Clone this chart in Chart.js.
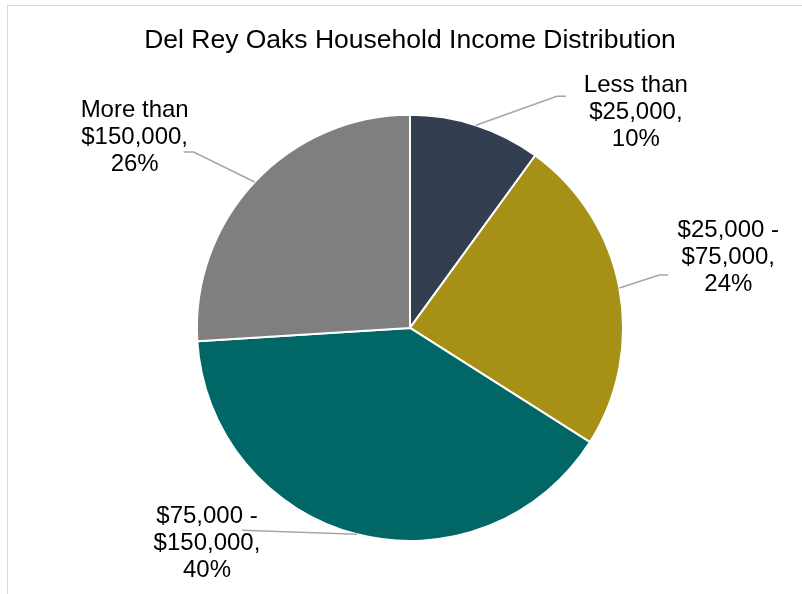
<!DOCTYPE html>
<html>
<head>
<meta charset="utf-8">
<script src="https://cdn.jsdelivr.net/npm/chart.js@4.4.0/dist/chart.umd.min.js"></script>
<style>
  html, body { margin: 0; padding: 0; background: #fff; }
  #frame { position: absolute; left: 7px; top: 5px; width: 900px; height: 700px; border: 1px solid #d9d9d9; }
  #wrap { position: absolute; left: 0; top: 0; width: 802px; height: 594px; }
</style>
</head>
<body>
<div id="frame"></div>
<div id="wrap"><canvas id="chart" width="802" height="594"></canvas></div>
<script>
const categories = ['Less than $25,000', '$25,000 - $75,000', '$75,000 - $150,000', 'More than $150,000'];
const shares = [10, 24, 40, 26];
const labelLines = [
  ['Less than', '$25,000,', '10%'],
  ['$25,000 -', '$75,000,', '24%'],
  ['$75,000 -', '$150,000,', '40%'],
  ['More than', '$150,000,', '26%']
];
const sliceColors = ['#333F50', '#A69016', '#006666', '#7F7F7F'];

// where each label sits relative to the edge of its slice (pixels)
const labelLayout = [
  { elbow: [81, -29], end: [90, -29], text: [160, -13] },
  { elbow: [40, -13], end: [49, -13], text: [109, -31] },
  { elbow: [-115, -4], end: [-115, -4], text: [-150, 9] },
  { elbow: [-61, -30], end: [-71, -30], text: [-120, -45] }
];

const outsideLabels = {
  id: 'outsideLabels',
  afterDatasetsDraw(chart) {
    const ctx = chart.ctx;
    const arcs = chart.getDatasetMeta(0).data;
    ctx.save();
    arcs.forEach((arc, i) => {
      const p = arc.getProps(['x', 'y', 'startAngle', 'endAngle', 'outerRadius'], true);
      const mid = (p.startAngle + p.endAngle) / 2;
      const ex = p.x + Math.cos(mid) * p.outerRadius;
      const ey = p.y + Math.sin(mid) * p.outerRadius;
      const lay = labelLayout[i];
      ctx.strokeStyle = '#A6A6A6';
      ctx.lineWidth = 1.5;
      ctx.beginPath();
      ctx.moveTo(ex, ey);
      ctx.lineTo(ex + lay.elbow[0], ey + lay.elbow[1]);
      ctx.lineTo(ex + lay.end[0], ey + lay.end[1]);
      ctx.stroke();

      ctx.fillStyle = '#000';
      ctx.font = '24px "Liberation Sans", Arial, sans-serif';
      ctx.textAlign = 'center';
      ctx.textBaseline = 'middle';
      const lines = labelLines[i];
      const lh = 27;
      const cx = ex + lay.text[0];
      const cy = ey + lay.text[1];
      lines.forEach((t, k) => {
        ctx.fillText(t, cx, cy + (k - (lines.length - 1) / 2) * lh);
      });
    });
    ctx.restore();
  }
};

new Chart(document.getElementById('chart'), {
  type: 'pie',
  data: {
    labels: categories,
    datasets: [{
      data: shares,
      backgroundColor: sliceColors,
      borderColor: '#ffffff',
      borderWidth: 2
    }]
  },
  options: {
    responsive: false,
    animation: false,
    layout: { padding: { top: 0, bottom: 52, left: 18, right: 0 } },
    plugins: {
      legend: { display: false },
      tooltip: { enabled: false },
      title: {
        display: true,
        text: 'Del Rey Oaks Household Income Distribution',
        color: '#000',
        font: { family: '"Liberation Sans", Arial, sans-serif', size: 26.5, weight: 'normal' },
        padding: { top: 24.5, bottom: 57.5 }
      }
    }
  },
  plugins: [outsideLabels]
});
</script>
</body>
</html>
